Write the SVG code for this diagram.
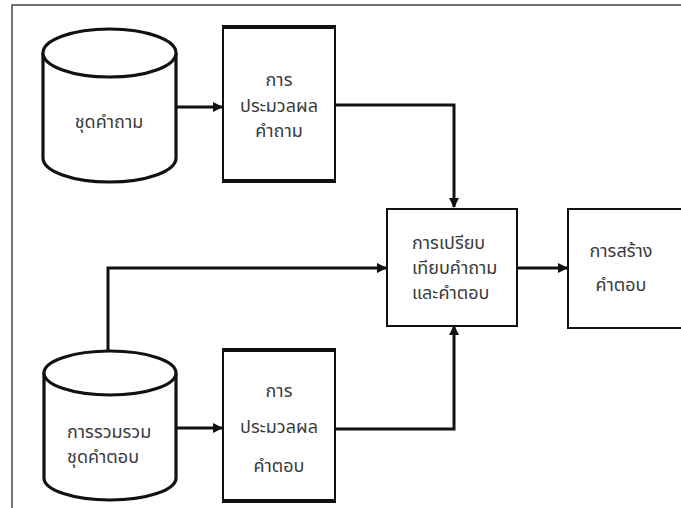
<svg xmlns="http://www.w3.org/2000/svg" width="681" height="508" viewBox="0 0 681 508">
<style>
.frame{fill:none;stroke:#444;stroke-width:1.5}
.cyl{fill:#fff;stroke:#111;stroke-width:3.2}
.box{fill:#fff;stroke:#111;stroke-width:2}
.edge{fill:none;stroke:#111;stroke-width:4}
.conn{fill:none;stroke:#111;stroke-width:3}
.t{font-family:"Noto Sans Thai","Tahoma","Noto Sans","DejaVu Sans",sans-serif;font-size:18px;fill:#3a3a3a}
.c{text-anchor:middle}
</style>
<defs>
<marker id="ah" markerWidth="10" markerHeight="10" refX="9" refY="5" orient="auto" markerUnits="userSpaceOnUse" viewBox="0 0 10 10">
<path d="M0,0 L10,5 L0,10 Z" fill="#111"/>
</marker>
</defs>
<rect width="681" height="508" fill="#fff"/>
<path class="frame" d="M12,520 L12,5 L690,5"/>

<g id="connectors">
<line class="conn" x1="176" y1="107" x2="222" y2="107" marker-end="url(#ah)"/>
<polyline class="conn" points="335,105 454,105 454,207" marker-end="url(#ah)"/>
<polyline class="conn" points="108,352 108,268 386,268" marker-end="url(#ah)"/>
<line class="conn" x1="517" y1="268" x2="567" y2="268" marker-end="url(#ah)"/>
<line class="conn" x1="176" y1="428" x2="222" y2="428" marker-end="url(#ah)"/>
<polyline class="conn" points="335,429 454,429 454,326" marker-end="url(#ah)"/>
</g>

<g id="cyl-questions">
<path class="cyl" d="M43,53 L43,158 A66.5,24 0 0 0 176,158 L176,53"/>
<ellipse class="cyl" cx="109.5" cy="53" rx="66.5" ry="24"/>
<text class="t c" x="109" y="128">ชุดคำถาม</text>
</g>

<g id="box-process-q">
<rect class="box" x="223" y="27" width="112" height="155"/>
<line class="edge" x1="222" y1="27" x2="336" y2="27"/>
<line class="edge" x1="222" y1="181" x2="336" y2="181"/>
<text class="t c" x="279" y="86">การ</text>
<text class="t c" x="279" y="112">ประมวลผล</text>
<text class="t c" x="279" y="137">คำถาม</text>
</g>

<g id="box-compare">
<rect class="box" x="387" y="209" width="130" height="117"/>
<text class="t" x="412" y="249">การเปรียบ</text>
<text class="t" x="412" y="274">เทียบคำถาม</text>
<text class="t" x="412" y="299">และคำตอบ</text>
</g>

<g id="box-answer">
<rect class="box" x="568" y="209" width="130" height="119"/>
<text class="t c" x="621" y="257">การสร้าง</text>
<text class="t c" x="621" y="291">คำตอบ</text>
</g>

<g id="cyl-answers">
<path class="cyl" d="M44,373 L44,478 A66,22 0 0 0 176,478 L176,373"/>
<ellipse class="cyl" cx="110" cy="373" rx="66" ry="22"/>
<text class="t" x="67" y="438">การรวมรวม</text>
<text class="t" x="67" y="463">ชุดคำตอบ</text>
</g>

<g id="box-process-a">
<rect class="box" x="223" y="350" width="112" height="152"/>
<line class="edge" x1="222" y1="350" x2="336" y2="350"/>
<line class="edge" x1="222" y1="501" x2="336" y2="501"/>
<text class="t c" x="279" y="397">การ</text>
<text class="t c" x="279" y="433">ประมวลผล</text>
<text class="t c" x="279" y="472">คำตอบ</text>
</g>
</svg>
